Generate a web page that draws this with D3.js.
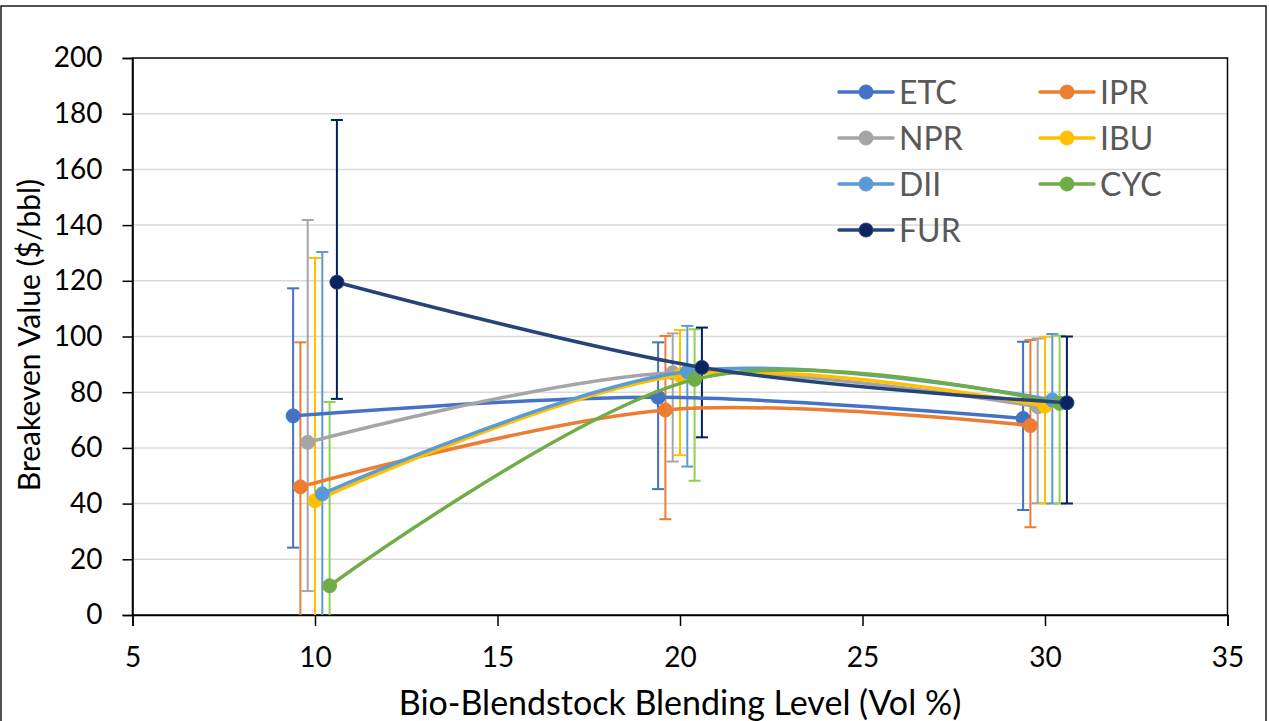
<!DOCTYPE html>
<html>
<head>
<meta charset="utf-8">
<script src="https://cdn.jsdelivr.net/npm/d3@7"></script>
<style>
  html, body { margin: 0; padding: 0; background: #fff; }
  svg { display: block; }
  text { font-family: Lato, "Liberation Sans", sans-serif; }
</style>
</head>
<body>
<svg id="chart" width="1269" height="721"></svg>
<script>
// ---- data ----
const seriesNames = ["ETC", "IPR", "NPR", "IBU", "DII", "CYC", "FUR"];
const blendLevels = [10, 20, 30];
const xOffsets = [-0.6, -0.4, -0.2, 0, 0.2, 0.4, 0.6];
const valETC = [71.5, 78.2, 70.6];
const valIPR = [46, 73.6, 68];
const valNPR = [62, 87, 74.8];
const valIBU = [41, 86, 75];
const valDII = [43.5, 87.4, 77.2];
const valCYC = [10.5, 84.6, 76];
const valFUR = [119.5, 88.9, 76.2];
const hiETC = [117.3, 97.9, 98.1];
const hiIPR = [97.9, 100.2, 98.7];
const hiNPR = [141.8, 101.1, 99.3];
const hiIBU = [128.2, 102.3, 99.9];
const hiDII = [130.3, 103.8, 100.9];
const hiCYC = [76.5, 102.6, 100.3];
const hiFUR = [177.7, 103.2, 100];
const loETC = [24.2, 45.2, 37.7];
const loIPR = [-6, 34.4, 31.5];
const loNPR = [8.6, 55.1, 40.1];
const loIBU = [-46, 57.4, 40];
const loDII = [-43, 53.3, 40];
const loCYC = [-55, 48.2, 40];
const loFUR = [77.6, 63.8, 40];
const yTicks = [0, 20, 40, 60, 80, 100, 120, 140, 160, 180, 200];
const xTicks = [5, 10, 15, 20, 25, 30, 35];

const values = [valETC, valIPR, valNPR, valIBU, valDII, valCYC, valFUR];
const highs = [hiETC, hiIPR, hiNPR, hiIBU, hiDII, hiCYC, hiFUR];
const lows = [loETC, loIPR, loNPR, loIBU, loDII, loCYC, loFUR];

const lineColors = ["#4472C4", "#ED7D31", "#A5A5A5", "#FFC000", "#5B9BD5", "#70AD47", "#264478"];
const markerColors = ["#4472C4", "#ED7D31", "#A5A5A5", "#FFC000", "#5B9BD5", "#70AD47", "#0B2361"];
const errColors = ["#4472C4", "#ED7D31", "#A5A5A5", "#FFC000", "#5B9BD5", "#92D050", "#002060"];

// ---- layout ----
const svg = d3.select("#chart");
const L = 132.5, R = 1227.5, T = 58, B = 615;
const x = d3.scaleLinear().domain([5, 35]).range([L, R]);
const y = d3.scaleLinear().domain([0, 200]).range([B, T]);

// outer chart border
svg.append("rect").attr("x", 1).attr("y", 6).attr("width", 1265).attr("height", 730)
  .attr("fill", "none").attr("stroke", "#1a1a1a").attr("stroke-width", 1.5);

svg.append("defs").append("clipPath").attr("id", "plotclip")
  .append("rect").attr("x", L).attr("y", T - 2).attr("width", R - L).attr("height", B - T + 2);

// gridlines
svg.append("g").selectAll("line").data(yTicks.filter(d => d > 0 && d < 200)).join("line")
  .attr("x1", L).attr("x2", R).attr("y1", d => y(d)).attr("y2", d => y(d))
  .attr("stroke", "#D9D9D9").attr("stroke-width", 1.5);

// plot border
svg.append("rect").attr("x", L).attr("y", T).attr("width", R - L).attr("height", B - T)
  .attr("fill", "none").attr("stroke", "#000").attr("stroke-width", 1.5);

// axes
const yAxis = svg.append("g").attr("transform", `translate(${L},0)`)
  .call(d3.axisLeft(y).tickValues(yTicks).tickSize(10).tickPadding(20));
const xAxis = svg.append("g").attr("transform", `translate(0,${B})`)
  .call(d3.axisBottom(x).tickValues(xTicks).tickSize(11).tickPadding(21));
[yAxis, xAxis].forEach(a => {
  a.select(".domain").attr("stroke", "#000").attr("stroke-width", 1.5);
  a.selectAll(".tick line").attr("stroke", "#000").attr("stroke-width", 1.5);
  a.selectAll(".tick text").attr("fill", "#000").style("font-size", "28px")
    .style("font-family", "Lato, 'Liberation Sans', sans-serif");
});

// axis titles
svg.append("text").attr("x", 680).attr("y", 715).attr("text-anchor", "middle")
  .style("font-size", "34px").attr("fill", "#000").text("Bio-Blendstock Blending Level (Vol %)");
svg.append("text").attr("transform", "translate(40,335) rotate(-90)").attr("text-anchor", "middle")
  .style("font-size", "30px").attr("fill", "#000").text("Breakeven Value ($/bbl)");

const plot = svg.append("g").attr("clip-path", "url(#plotclip)");

// error bars
seriesNames.forEach((name, i) => {
  const g = plot.append("g");
  blendLevels.forEach((bl, j) => {
    const px = x(bl + xOffsets[i]);
    g.append("line").attr("x1", px).attr("x2", px)
      .attr("y1", y(highs[i][j])).attr("y2", y(lows[i][j]))
      .attr("stroke", errColors[i]).attr("stroke-width", 2);
    [highs[i][j], lows[i][j]].forEach(v => {
      g.append("line").attr("x1", px - 6).attr("x2", px + 6)
        .attr("y1", y(v)).attr("y2", y(v))
        .attr("stroke", errColors[i]).attr("stroke-width", 2);
    });
  });
});

// lines
const line = d3.line().x(d => x(d[0])).y(d => y(d[1])).curve(d3.curveCardinal.tension(0));
seriesNames.forEach((name, i) => {
  const pts = blendLevels.map((bl, j) => [bl + xOffsets[i], values[i][j]]);
  plot.append("path").attr("d", line(pts)).attr("fill", "none")
    .attr("stroke", lineColors[i]).attr("stroke-width", 3.5).attr("stroke-linecap", "round");
  plot.append("g").selectAll("circle").data(pts).join("circle")
    .attr("cx", d => x(d[0])).attr("cy", d => y(d[1])).attr("r", 7)
    .attr("fill", markerColors[i]).attr("stroke", lineColors[i]).attr("stroke-width", 1);
});

// legend
const legX = [839, 1040], legY0 = 92, legDy = 46;
seriesNames.forEach((name, i) => {
  const col = i % 2, row = Math.floor(i / 2);
  const lx = legX[col], ly = legY0 + row * legDy;
  const g = svg.append("g");
  g.append("line").attr("x1", lx).attr("x2", lx + 54).attr("y1", ly).attr("y2", ly)
    .attr("stroke", lineColors[i]).attr("stroke-width", 3.5).attr("stroke-linecap", "round");
  g.append("circle").attr("cx", lx + 27).attr("cy", ly).attr("r", 7)
    .attr("fill", markerColors[i]).attr("stroke", lineColors[i]).attr("stroke-width", 1);
  g.append("text").attr("x", lx + 60).attr("y", ly).attr("dy", "0.36em")
    .style("font-size", "32px").attr("fill", "#595959").text(name);
});
</script>
</body>
</html>
